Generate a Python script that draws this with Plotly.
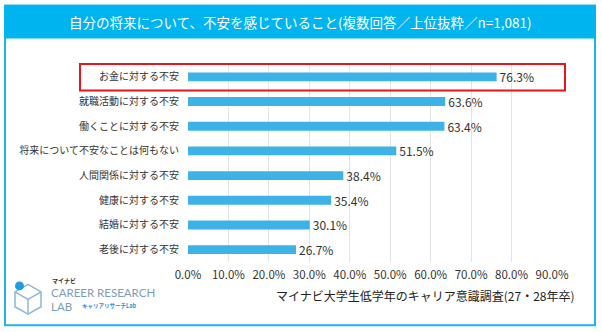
import plotly.graph_objects as go

categories = ["お金に対する不安", "就職活動に対する不安", "働くことに対する不安",
              "将来について不安なことは何もない", "人間関係に対する不安",
              "健康に対する不安", "結婚に対する不安", "老後に対する不安"]
values = [76.3, 63.6, 63.4, 51.5, 38.4, 35.4, 30.1, 26.7]
tick_vals = [0, 10, 20, 30, 40, 50, 60, 70, 80, 90]
tick_text = [f"{v:.1f}%" for v in tick_vals]
title_text = "自分の将来について、不安を感じていること(複数回答／上位抜粋／n=1,081)"
source_text = "マイナビ大学生低学年のキャリア意識調査(27・28年卒)"

W, H = 602, 332
L, R, T, B = 188, 50, 62.5, 69.5
PW, PH = W - L - R, H - T - B
FONT = "Noto Sans CJK JP"
BLUE = "#1FB3EC"
BAR = "#3DB2E6"


def px(x):
    return (x - L) / PW


def py(y):
    return (H - B - y) / PH


fig = go.Figure(go.Bar(
    x=values, y=categories, orientation="h",
    marker=dict(color=BAR, line=dict(width=0)),
    width=0.36,
    text=[f"{v:.1f}%" for v in values], textposition="outside",
    constraintext="none",
    textfont=dict(size=12, color="#333333", family=FONT),
    cliponaxis=False,
))

shapes = [
    dict(type="rect", xref="paper", yref="paper", x0=px(5), x1=px(595), y0=py(5), y1=py(326),
         line=dict(color=BLUE, width=2), fillcolor="rgba(0,0,0,0)", layer="below"),
    dict(type="rect", xref="paper", yref="paper", x0=px(4), x1=px(596), y0=py(4), y1=py(38),
         line=dict(width=0), fillcolor="#00B4F0", layer="below"),
    dict(type="rect", xref="paper", yref="y", x0=px(80), x1=px(565), y0=-0.52, y1=0.55,
         line=dict(color="#E8141E", width=2), fillcolor="rgba(0,0,0,0)"),
]

cx, cy, r = 28, 300, 15
hexpts = [(cx, cy - r), (cx + 13, cy - 7.5), (cx + 13, cy + 7.5), (cx, cy + r),
          (cx - 13, cy + 7.5), (cx - 13, cy - 7.5)]
path = "M " + " L ".join(f"{px(x)},{py(y)}" for x, y in hexpts) + " Z"
shapes.append(dict(type="path", xref="paper", yref="paper", path=path,
                   line=dict(color="#8FB8D6", width=1.5)))
inner = [(cx - 13, cy - 7.5), (cx, cy), (cx + 13, cy - 7.5)]
shapes.append(dict(type="path", xref="paper", yref="paper",
                   path="M " + " L ".join(f"{px(x)},{py(y)}" for x, y in inner),
                   line=dict(color="#8FB8D6", width=1.5)))
shapes.append(dict(type="line", xref="paper", yref="paper", x0=px(cx), x1=px(cx),
                   y0=py(cy), y1=py(cy + r), line=dict(color="#8FB8D6", width=1.5)))
shapes.append(dict(type="circle", xref="paper", yref="paper", x0=px(15), x1=px(24),
                   y0=py(282), y1=py(291), line=dict(width=0), fillcolor="#1E9EE0"))

annotations = [
    dict(text=title_text, xref="paper", yref="paper", x=px(300), y=py(21),
         showarrow=False, font=dict(size=13.5, color="white", family=FONT),
         xanchor="center", yanchor="middle"),
    dict(text=source_text, xref="paper", yref="paper", x=px(577), y=py(296),
         showarrow=False, font=dict(size=12, color="#222222", family=FONT),
         xanchor="right", yanchor="middle"),
    dict(text="<b>マイナビ</b>", xref="paper", yref="paper", x=px(50), y=py(281),
         showarrow=False, font=dict(size=6, color="#333333", family=FONT),
         xanchor="left", yanchor="middle"),
    dict(text="CAREER RESEARCH", xref="paper", yref="paper", x=px(49), y=py(293),
         showarrow=False, font=dict(size=11.5, color="#7E9CB8", family="Lato"),
         xanchor="left", yanchor="middle"),
    dict(text="LAB", xref="paper", yref="paper", x=px(49), y=py(307),
         showarrow=False, font=dict(size=11.5, color="#7E9CB8", family="Lato"),
         xanchor="left", yanchor="middle"),
    dict(text="<b>キャリアリサーチLab</b>", xref="paper", yref="paper", x=px(80), y=py(307),
         showarrow=False, font=dict(size=5.5, color="#2E8FD8", family=FONT),
         xanchor="left", yanchor="middle"),
]

fig.update_layout(
    width=W, height=H,
    margin=dict(l=L, r=R, t=T, b=B, pad=0, autoexpand=False),
    paper_bgcolor="white", plot_bgcolor="white",
    showlegend=False,
    font=dict(family=FONT, color="#333333"),
    shapes=shapes, annotations=annotations,
    xaxis=dict(range=[0, 90], tickvals=tick_vals, ticktext=tick_text,
               showgrid=True, gridcolor="#E3E3E3", gridwidth=1,
               zeroline=False, showline=False, ticks="",
               tickfont=dict(size=11.5, color="#333333", family=FONT),
               ticklabelstandoff=4, fixedrange=True, automargin=False),
    yaxis=dict(autorange="reversed", showgrid=False, zeroline=False, showline=False,
               ticks="", tickfont=dict(size=10, color="#333333", family=FONT),
               ticklabelstandoff=8, fixedrange=True, automargin=False),
)

fig.write_html("out.html", config={"displayModeBar": False})
